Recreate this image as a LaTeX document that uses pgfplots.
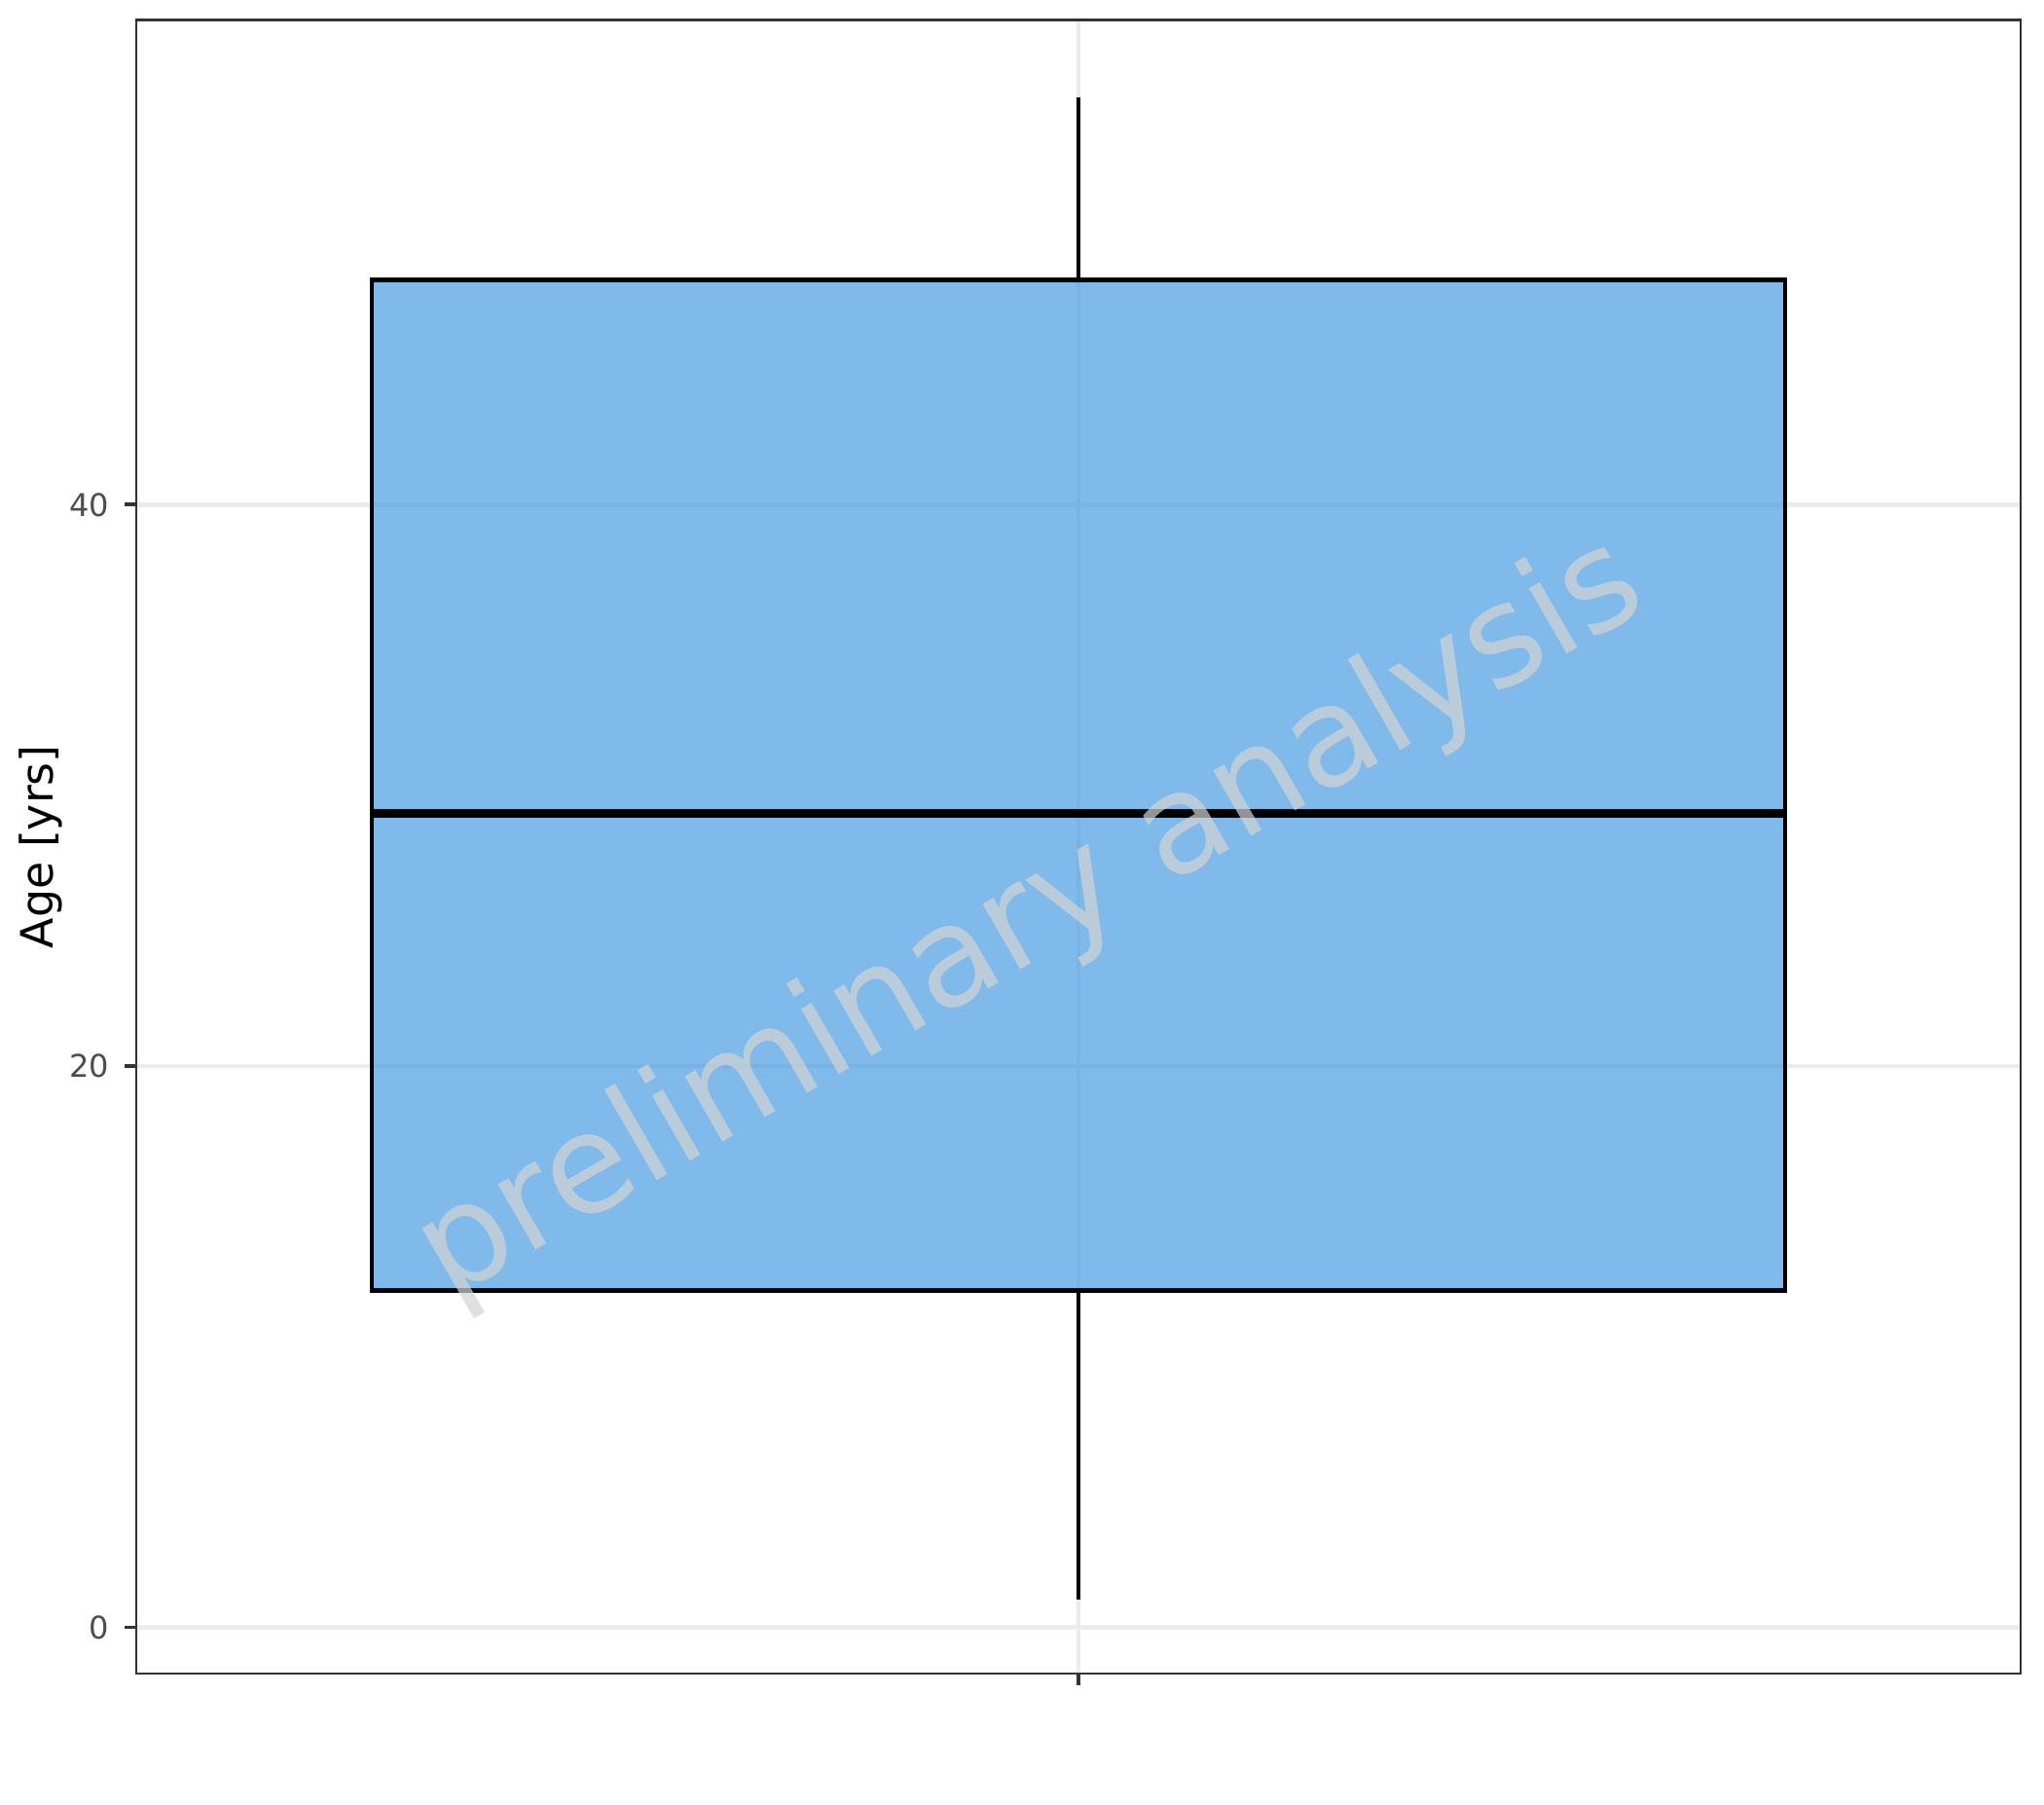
\documentclass[border=0pt]{standalone}
\usepackage{fontspec}
\setmainfont{DejaVu Sans}
\usepackage{pgfplots}
\pgfplotsset{compat=1.18}
\definecolor{boxfill}{RGB}{74,156,225}
\definecolor{gridc}{RGB}{235,235,235}
\definecolor{framec}{RGB}{51,51,51}
\definecolor{tickc}{RGB}{77,77,77}
\definecolor{wmark}{RGB}{211,211,211}
\begin{document}
\begin{tikzpicture}
\useasboundingbox (0,0) rectangle (504pt,444.96pt);
\begin{axis}[
  at={(33.6pt,32.4pt)}, anchor=south west,
  scale only axis, width=464.64pt, height=407.64pt,
  xmin=0.4, xmax=1.6, ymin=-1.65, ymax=57.27,
  xtick={1}, xticklabels={{}}, ytick={0,20,40},
  xtick pos=left, ytick pos=left,
  grid=major, major grid style={gridc, line width=1.1pt},
  axis line style={framec, line width=0.65pt},
  tick align=outside, major tick length=2.88pt,
  every tick/.append style={framec, line width=0.9pt},
  major tick style={framec, line width=0.9pt},
  /pgf/number format/assume math mode=true,
  yticklabel style={font=\fontsize{7.7}{9}\selectfont, text=tickc, inner sep=0pt, anchor=east, xshift=-3.6pt},
  ylabel={Age [yrs]},
  ylabel style={font=\fontsize{11}{13}\selectfont, at={(axis description cs:-0.0506,0.5)}, anchor=center},
]
% whiskers
\addplot[black, line width=1.1pt] coordinates {(1,48) (1,54.5)};
\addplot[black, line width=1.1pt] coordinates {(1,1) (1,12)};
% box (lower quartile 12, upper quartile 48)
\addplot[draw=black, line width=1.1pt, line join=miter, fill=boxfill, fill opacity=0.7]
  coordinates {(0.55,12) (1.45,12) (1.45,48) (0.55,48) (0.55,12)} -- cycle;
% median
\addplot[black, line width=2.2pt] coordinates {(0.55,29) (1.45,29)};
\node[rotate=30, text=wmark, text opacity=0.7, font=\fontsize{34}{40}\selectfont]
  at (axis cs:0.97,25.2) {preliminary analysis};
\end{axis}
\end{tikzpicture}
\end{document}
